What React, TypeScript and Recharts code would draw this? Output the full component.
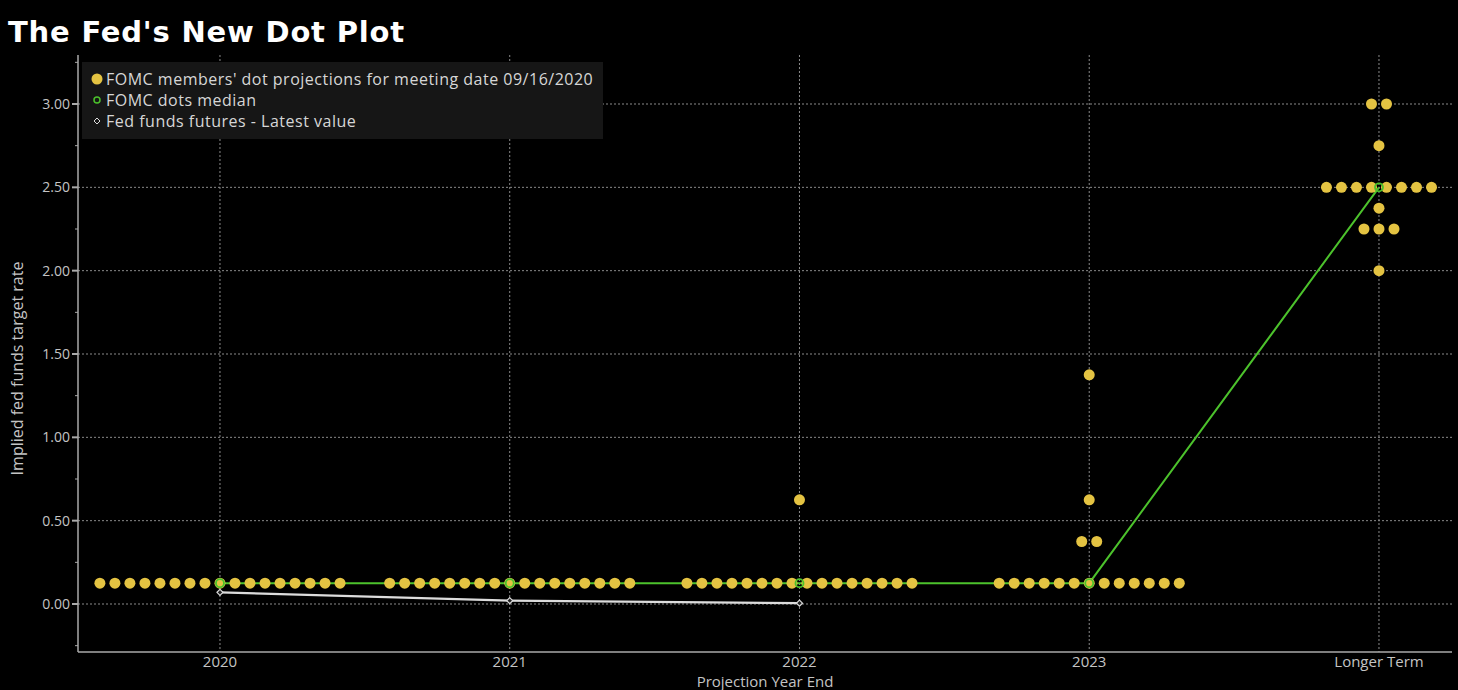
import React from 'react';
import { ComposedChart, Scatter, Line, XAxis, YAxis, CartesianGrid } from 'recharts';

const categories = ['2020', '2021', '2022', '2023', 'Longer Term'];

// [rate, number of participants at that rate] for each projection year
const dots2020 = [[0.125, 17]];
const dots2021 = [[0.125, 17]];
const dots2022 = [[0.125, 16], [0.625, 1]];
const dots2023 = [[0.125, 13], [0.375, 2], [0.625, 1], [1.375, 1]];
const dotsLonger = [[2.0, 1], [2.25, 3], [2.375, 1], [2.5, 8], [2.75, 1], [3.0, 2]];
const dotGroups = [dots2020, dots2021, dots2022, dots2023, dotsLonger];

const medianRates = [0.125, 0.125, 0.125, 0.125, 2.5];
const futuresRates = [0.07, 0.02, 0.005];

const yTicks = [-0.25, 0, 0.25, 0.5, 0.75, 1, 1.25, 1.5, 1.75, 2, 2.25, 2.5, 2.75, 3, 3.25];
const gridRates = [0, 0.5, 1, 1.5, 2, 2.5, 3];

const DOT_STEP = 0.0518; // horizontal spread of dots sharing a rate
const YELLOW = '#e4c342';
const GREEN = '#4cc22c';
const WHITE = '#dcdcdc';
const FONT = '"Open Sans", sans-serif';

const dotPoints = dotGroups.flatMap((group, i) =>
  group.flatMap(([rate, count]) =>
    Array.from({ length: count }, (_, k) => ({ x: i + (k - (count - 1) / 2) * DOT_STEP, y: rate }))
  )
);
const medianPoints = medianRates.map((y, i) => ({ x: i, y }));
const futuresPoints = futuresRates.map((y, i) => ({ x: i, y }));

const YTick = ({ x, y, payload }: any) => {
  const v = payload.value;
  const major = Math.abs(v * 2 - Math.round(v * 2)) < 1e-6;
  return (
    <g>
      <line x1={x - (major ? 6 : 3)} x2={x} y1={y} y2={y} stroke="#aaa" strokeWidth={major ? 2 : 1} />
      {major && (
        <text x={x - 8} y={y} dy={5} textAnchor="end" fill="#c4c4c4" fontSize={14} fontFamily={FONT}>
          {v.toFixed(2)}
        </text>
      )}
    </g>
  );
};

const XTick = ({ x, y, payload }: any) => (
  <text x={x} y={y} dy={15} textAnchor="middle" fill="#c4c4c4" fontSize={15} fontFamily={FONT}>
    {categories[payload.value]}
  </text>
);

const Diamond = (p: any) => (
  <path
    key={p.index}
    d={`M${p.cx},${p.cy - 3}L${p.cx + 3},${p.cy}L${p.cx},${p.cy + 3}L${p.cx - 3},${p.cy}Z`}
    fill="#222"
    stroke={WHITE}
    strokeWidth={1.2}
  />
);

const legendItems = [
  { label: "FOMC members' dot projections for meeting date 09/16/2020", marker: <circle cx={6} cy={7} r={5.5} fill={YELLOW} /> },
  { label: 'FOMC dots median', marker: <circle cx={6} cy={7} r={3} fill="none" stroke={GREEN} strokeWidth={1.5} /> },
  { label: 'Fed funds futures - Latest value', marker: <path d="M6,4L9,7L6,10L3,7Z" fill="none" stroke={WHITE} strokeWidth={1} /> },
];

export default function App() {
  return (
    <div style={{ position: 'fixed', left: 0, top: 0, width: 1458, height: 690, background: '#000', overflow: 'hidden' }}>
      <div
        style={{
          position: 'absolute',
          left: 8,
          top: 15,
          color: '#fff',
          fontFamily: '"DejaVu Sans", sans-serif',
          fontWeight: 'bold',
          fontSize: 29,
          letterSpacing: 0.8,
        }}
      >
        The Fed's New Dot Plot
      </div>
      <ComposedChart width={1458} height={690} margin={{ top: 55, right: 6, bottom: 0, left: 0 }}>
        <CartesianGrid
          stroke="#8a8a8a"
          strokeDasharray="2 2"
          horizontalValues={gridRates}
          verticalValues={[0, 1, 2, 3, 4]}
        />
        <XAxis
          type="number"
          dataKey="x"
          domain={[-0.49, 4.252]}
          ticks={[0, 1, 2, 3, 4]}
          allowDataOverflow
          height={38}
          tickLine={false}
          tickSize={0}
          tickMargin={0}
          axisLine={{ stroke: '#aaa', strokeWidth: 1.5 }}
          tick={<XTick />}
          label={{ value: 'Projection Year End', position: 'insideBottom', offset: 3, fill: '#c4c4c4', fontSize: 15, fontFamily: FONT }}
        />
        <YAxis
          type="number"
          dataKey="y"
          domain={[-0.288, 3.294]}
          ticks={yTicks}
          allowDataOverflow
          width={78}
          tickLine={false}
          tickSize={0}
          tickMargin={0}
          interval={0}
          axisLine={{ stroke: '#aaa', strokeWidth: 1.5 }}
          tick={<YTick />}
          label={{ value: 'Implied fed funds target rate', angle: -90, position: 'insideLeft', offset: 17, dy: 15, fill: '#c4c4c4', fontSize: 16, fontFamily: FONT, style: { textAnchor: 'middle' } }}
        />
        <Line
          data={medianPoints}
          dataKey="y"
          type="linear"
          stroke={GREEN}
          strokeWidth={2}
          dot={false}
          isAnimationActive={false}
        />
        <Line
          data={futuresPoints}
          dataKey="y"
          type="linear"
          stroke={WHITE}
          strokeWidth={2.2}
          dot={Diamond}
          isAnimationActive={false}
        />
        <Scatter
          data={dotPoints}
          isAnimationActive={false}
          shape={(p: any) => <circle cx={p.cx} cy={p.cy} r={5.5} fill={YELLOW} />}
        />
        <Scatter
          data={medianPoints}
          isAnimationActive={false}
          shape={(p: any) => <circle cx={p.cx} cy={p.cy} r={4} fill="none" stroke={GREEN} strokeWidth={1.8} />}
        />
      </ComposedChart>
      <div
        style={{
          position: 'absolute',
          left: 82,
          top: 62,
          width: 521,
          height: 77,
          background: '#161616',
          fontFamily: FONT,
          fontSize: 16,
          letterSpacing: 0.5,
          color: '#d6d6d6',
          padding: '6px 0 0 9px',
          boxSizing: 'border-box',
        }}
      >
        {legendItems.map((item) => (
          <div key={item.label} style={{ display: 'flex', alignItems: 'center', height: 21, whiteSpace: 'nowrap' }}>
            <svg width={13} height={14} style={{ marginRight: 2 }}>
              {item.marker}
            </svg>
            {item.label}
          </div>
        ))}
      </div>
    </div>
  );
}
